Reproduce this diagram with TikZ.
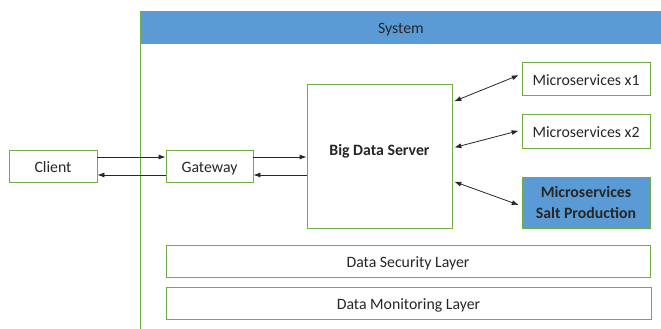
\documentclass[tikz,border=0pt]{standalone}
\usepackage{fontspec}
\setmainfont{Carlito}
\usepackage{xcolor}
\definecolor{mygreen}{RGB}{112,173,71}
\definecolor{myblue}{RGB}{91,155,213}
\definecolor{mytext}{RGB}{38,38,38}
\usepackage{tikz}
\usetikzlibrary{arrows.meta}

\begin{document}
\begin{tikzpicture}[x=1pt,y=-1pt,line cap=butt,font=\fontsize{15.8}{18}\selectfont,text=mytext]
	\tikzstyle{frame}=[draw=mygreen,line width=0.8pt,fill=white,inner sep=0pt];
	\tikzstyle{box}=[frame,text height=13.5pt,text depth=0pt];
	\tikzstyle{link}=[draw=black!85,line width=0.8pt,-{Latex[length=7pt,width=5pt]}];
	\tikzstyle{twoway}=[link,{Latex[length=7pt,width=5pt]}-{Latex[length=7pt,width=5pt]},shorten <=2pt,shorten >=3pt];
	\useasboundingbox (0,0) rectangle (661,329);
	%% system frame
	\draw[mygreen,line width=0.8pt] (140,329) -- (140,11);
	\node[box,fill=myblue,text height=12pt,minimum width=521pt,minimum height=32pt,anchor=north west] (sys) at (140,11) {System};
	%% nodes
	\node[box,minimum width=88pt,minimum height=32pt]  (cl)   at (53,166)    {Client};
	\node[box,minimum width=87pt,minimum height=32pt]  (gw)   at (209.5,166) {Gateway};
	\node[box,minimum width=145pt,minimum height=144pt,font=\fontsize{15.8}{18}\selectfont\bfseries] (bds) at (379.5,156) {\raisebox{7.5pt}{Big Data Server}};
	\node[box,minimum width=128pt,minimum height=33pt] (ms1)  at (586,78.5)  {Microservices x1};
	\node[box,minimum width=128pt,minimum height=34pt] (ms2)  at (586,131)   {Microservices x2};
	\node[frame,fill=myblue,minimum width=128pt,minimum height=51pt,align=center,
	      font=\fontsize{15.8}{21}\selectfont\bfseries] (salt) at (586,202.5) {Microservices\\Salt Production};
	\node[box,minimum width=484pt,minimum height=32pt] (sec)  at (408,261)   {Data Security Layer};
	\node[box,minimum width=485pt,minimum height=32pt] (mon)  at (408.5,303) {Data Monitoring Layer};
	%% connectors
	\draw[link] ([yshift=9pt]cl.east) -- ([yshift=9pt]gw.west);
	\draw[link] ([yshift=-9pt]gw.west) -- ([yshift=-9pt]cl.east);
	\draw[link] ([yshift=9pt]gw.east) -- ([yshift=9pt]gw.east -| bds.west);
	\draw[link] ([yshift=-9pt]gw.east -| bds.west) -- ([yshift=-9pt]gw.east);
	\draw[twoway] ([yshift=54pt]bds.east) -- ([yshift=4.5pt]ms1.west);
	\draw[twoway] ([yshift=8pt]bds.east) -- ([yshift=1pt]ms2.west);
	\draw[twoway] ([yshift=-25pt]bds.east) -- ([yshift=-3.5pt]salt.west);
\end{tikzpicture}
\end{document}
